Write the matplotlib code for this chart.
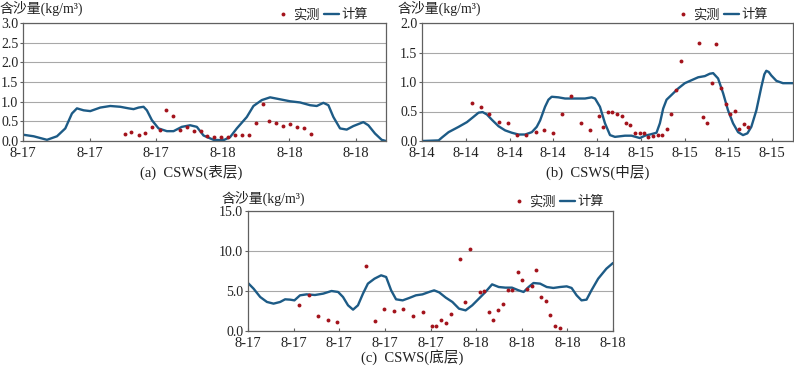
import matplotlib
matplotlib.use("Agg")
import matplotlib.pyplot as plt

plt.rcParams['font.family'] = ['Liberation Serif', 'Noto Sans CJK SC', 'DejaVu Sans']

# (a) 表层
a_calc_t = [0, 0.96, 2.16, 3.06, 3.81, 4.41, 4.86, 5.46, 6.06, 6.96, 7.86, 8.76, 9.51, 9.96,
            10.41, 10.86, 11.16, 11.61, 12.21, 12.96, 13.56, 14.31, 15.06, 15.66, 16.26, 17.16,
            18.06, 18.66, 19.26, 20.16, 20.76, 21.51, 22.26, 23.16, 24.06, 24.96, 25.86, 26.46,
            27.06, 27.51, 27.96, 28.56, 29.16, 29.76, 30.66, 31.11, 31.71, 32.31, 32.7]
a_calc = [0.16, 0.12, 0.03, 0.12, 0.32, 0.70, 0.83, 0.78, 0.76, 0.85, 0.89, 0.87, 0.83, 0.81,
          0.85, 0.87, 0.78, 0.53, 0.32, 0.25, 0.25, 0.36, 0.40, 0.36, 0.14, 0.03,
          0.02, 0.10, 0.32, 0.61, 0.89, 1.04, 1.11, 1.06, 1.01, 0.98, 0.91, 0.89,
          0.97, 0.91, 0.61, 0.32, 0.29, 0.38, 0.48, 0.40, 0.19, 0.03, 0.0]
a_obs_t = [9.15, 9.75, 10.41, 11.01, 11.61, 12.3, 12.87, 13.5, 14.16, 14.76, 15.36, 16.05,
           16.62, 17.25, 17.85, 18.45, 19.11, 19.71, 20.37, 20.97, 21.6, 22.2, 22.8, 23.46,
           24.06, 24.66, 25.32, 25.92]
a_obs = [0.19, 0.22, 0.14, 0.20, 0.36, 0.29, 0.78, 0.63, 0.29, 0.35, 0.26, 0.25,
         0.13, 0.11, 0.11, 0.10, 0.14, 0.16, 0.16, 0.46, 0.95, 0.51, 0.46, 0.38,
         0.43, 0.36, 0.32, 0.17]
a_ticks = [0, 6, 12, 18, 24, 30]
a_labels = ['8-17', '8-17', '8-17', '8-18', '8-18', '8-18']

# (b) 中层
b_calc_t = [0, 1.52, 1.83, 2.43, 3.35, 4.11, 4.71, 5.17, 5.54, 5.93, 6.39, 7.0, 7.6, 8.21,
            8.82, 9.43, 10.04, 10.49, 10.80, 11.25, 11.56, 11.86, 12.47, 13.08, 13.99, 14.9,
            15.51, 15.82, 16.27, 16.73, 17.19, 17.64, 18.56, 19.16, 19.92, 20.38, 20.84, 21.44,
            21.75, 22.05, 22.36, 22.81, 23.42, 24.03, 24.64, 25.25, 25.86, 26.31, 26.62, 27.07,
            27.53, 27.98, 28.44, 28.90, 29.35, 29.75, 30.11, 30.57, 31.03, 31.3, 31.48, 31.7,
            31.94, 32.40, 33.0, 33.92]
b_calc = [0, 0.01, 0.06, 0.15, 0.24, 0.32, 0.41, 0.48, 0.49, 0.45, 0.36, 0.25, 0.18, 0.14,
          0.11, 0.11, 0.15, 0.24, 0.35, 0.58, 0.70, 0.75, 0.74, 0.72, 0.72, 0.72,
          0.74, 0.72, 0.58, 0.30, 0.10, 0.07, 0.09, 0.09, 0.05, 0.09, 0.11, 0.14,
          0.30, 0.55, 0.70, 0.78, 0.89, 0.98, 1.03, 1.08, 1.10, 1.14, 1.15, 1.06,
          0.81, 0.52, 0.30, 0.15, 0.10, 0.13, 0.24, 0.52, 0.92, 1.13, 1.19, 1.17,
          1.11, 1.02, 0.98, 0.98]
b_obs_t = [4.56, 5.38, 6.17, 7.06, 7.88, 8.70, 9.52, 10.40, 11.19, 11.98, 12.84, 13.66,
           14.51, 15.36, 16.18, 16.55, 16.97, 17.40, 17.82, 18.25, 18.62, 19.04, 19.47,
           19.89, 20.26, 20.68, 21.11, 21.54, 21.96, 22.39, 22.78, 23.21, 23.67, 25.28,
           25.70, 26.10, 26.52, 26.92, 27.35, 27.77, 28.17, 28.59, 28.99, 29.41, 29.84]
b_obs = [0.64, 0.57, 0.45, 0.32, 0.31, 0.10, 0.11, 0.15, 0.19, 0.13, 0.45, 0.76,
         0.31, 0.19, 0.42, 0.23, 0.50, 0.49, 0.45, 0.43, 0.30, 0.27, 0.14,
         0.14, 0.13, 0.06, 0.08, 0.10, 0.10, 0.20, 0.45, 0.86, 1.36, 1.66,
         0.41, 0.31, 0.99, 1.64, 0.89, 0.63, 0.45, 0.51, 0.20, 0.28, 0.24]
b_ticks = [0, 4, 8, 12, 16, 20, 24, 28, 32]
b_labels = ['8-14'] * 5 + ['8-15'] * 4

# (c) 底层
c_calc_t = [0, 0.49, 1.07, 1.66, 2.24, 2.82, 3.25, 3.69, 4.07, 4.56, 5.14, 5.87, 6.59, 7.32,
            7.90, 8.33, 8.77, 9.21, 9.64, 10.08, 10.51, 11.09, 11.67, 12.11, 12.55, 12.98,
            13.56, 14.14, 14.72, 15.30, 15.88, 16.32, 16.76, 17.34, 17.92, 18.50, 19.08, 19.66,
            20.24, 20.82, 21.40, 21.98, 22.56, 23.14, 23.73, 24.16, 24.60, 25.03, 25.61, 26.19,
            26.77, 27.36, 27.94, 28.37, 28.81, 29.24, 29.68, 30.11, 30.70, 31.42, 32.0]
c_calc = [6.0, 5.29, 4.25, 3.63, 3.42, 3.63, 3.96, 3.92, 3.83, 4.46, 4.58, 4.5, 4.67, 5.0,
          4.88, 4.25, 3.21, 2.67, 3.21, 4.67, 5.92, 6.54, 6.96, 6.75, 5.08, 3.96,
          3.83, 4.13, 4.46, 4.58, 4.88, 5.08, 4.83, 4.17, 3.63, 2.79, 2.58, 3.21,
          4.04, 4.88, 5.83, 5.5, 5.42, 5.42, 5.08, 4.88, 5.5, 6.0, 5.92, 5.5,
          5.38, 5.5, 5.58, 5.38, 4.46, 3.83, 3.92, 5.08, 6.54, 7.79, 8.5]
c_obs_t = [4.50, 5.34, 6.16, 6.97, 7.81, 10.31, 11.12, 11.96, 12.81, 13.62, 14.46, 15.30,
           16.12, 16.52, 16.96, 17.37, 17.80, 18.61, 19.02, 19.46, 20.30, 20.71, 21.11,
           21.52, 21.93, 22.36, 22.77, 23.17, 23.64, 24.02, 24.45, 24.86, 25.29, 25.67,
           26.14, 26.51, 26.92, 27.36]
c_obs = [3.29, 4.5, 1.83, 1.42, 1.17, 8.08, 1.21, 2.71, 2.54, 2.79, 1.88, 2.38,
         0.58, 0.58, 1.42, 1.0, 2.08, 8.96, 3.67, 10.25, 4.83, 5.0, 2.38,
         1.33, 2.63, 3.33, 5.08, 5.08, 7.38, 6.33, 5.29, 5.67, 7.58, 4.25,
         3.71, 2.04, 0.58, 0.42]
c_ticks = [0, 4, 8, 12, 16, 20, 24, 28, 32]
c_labels = ['8-17'] * 5 + ['8-18'] * 4

line_c = '#1d5b86'
dot_c = '#a3131c'

fig = plt.figure(figsize=(7.94, 3.70), dpi=100)


def panel(rect, ct, cv, ot, ov, xmax, yticks, ylabels, xt, xl, caption, cap_xy, yl_xy, leg_xy):
    ax = fig.add_axes(rect)
    ax.plot(ot, ov, 'o', color=dot_c, ms=2.8, mec='none', label='实测', zorder=3)
    ax.plot(ct, cv, '-', color=line_c, lw=1.7, label='计算', zorder=2,
            solid_joinstyle='round', solid_capstyle='round')
    ax.set_xlim(0, xmax)
    ax.set_ylim(yticks[0], yticks[-1])
    ax.set_yticks(yticks)
    ax.set_yticklabels(ylabels)
    ax.set_xticks(xt)
    ax.set_xticklabels(xl)
    ax.yaxis.grid(True, color='#a8a8a8', lw=0.8)
    ax.set_axisbelow(True)
    for s in ax.spines.values():
        s.set_color('#606060')
        s.set_linewidth(0.9)
    ax.tick_params(axis='x', direction='in', length=2.5, color='#606060', labelsize=10.5,
                   pad=4, labelcolor='#222222')
    ax.tick_params(axis='y', direction='out', length=2.5, color='#606060', labelsize=10,
                   pad=1, labelcolor='#222222')
    fig.text(yl_xy[0] / 794, 1 - yl_xy[1] / 370, '含沙量(kg/m³)', fontsize=10,
             ha='left', va='center', color='#222222')
    fig.text(cap_xy[0] / 794, 1 - cap_xy[1] / 370, caption, fontsize=10.5,
             ha='center', va='center', color='#222222')
    ax.legend(loc='center right', bbox_to_anchor=(leg_xy[0] / 794, 1 - leg_xy[1] / 370),
              bbox_transform=fig.transFigure, ncol=2, frameon=False,
              fontsize=9.5, handlelength=1.1, handletextpad=0.2, columnspacing=0.4,
              borderaxespad=0, borderpad=0, labelcolor='#222222')
    return ax


def frac(l, t, r, b):
    return [l / 794, 1 - b / 370, (r - l) / 794, (b - t) / 370]


panel(frac(23, 23, 386, 141), a_calc_t, a_calc, a_obs_t, a_obs, 32.7,
      [0, 0.5, 1.0, 1.5, 2.0, 2.5, 3.0], ['0.0', '0.5', '1.0', '1.5', '2.0', '2.5', '3.0'],
      a_ticks, a_labels, '(a)  CSWS(表层)', (191, 172), (0, 8), (368, 15))

panel(frac(422, 23, 793, 141), b_calc_t, b_calc, b_obs_t, b_obs, 33.92,
      [0, 0.5, 1.0, 1.5, 2.0], ['0.0', '0.5', '1.0', '1.5', '2.0'],
      b_ticks, b_labels, '(b)  CSWS(中层)', (598, 172), (397, 8), (768, 15))

panel(frac(248, 211, 613, 331), c_calc_t, c_calc, c_obs_t, c_obs, 32.0,
      [0, 5, 10, 15], ['0.0', '5.0', '10.0', '15.0'],
      c_ticks, c_labels, '(c)  CSWS(底层)', (412, 357), (222, 198), (604, 202))

fig.savefig('out.png', dpi=100)
